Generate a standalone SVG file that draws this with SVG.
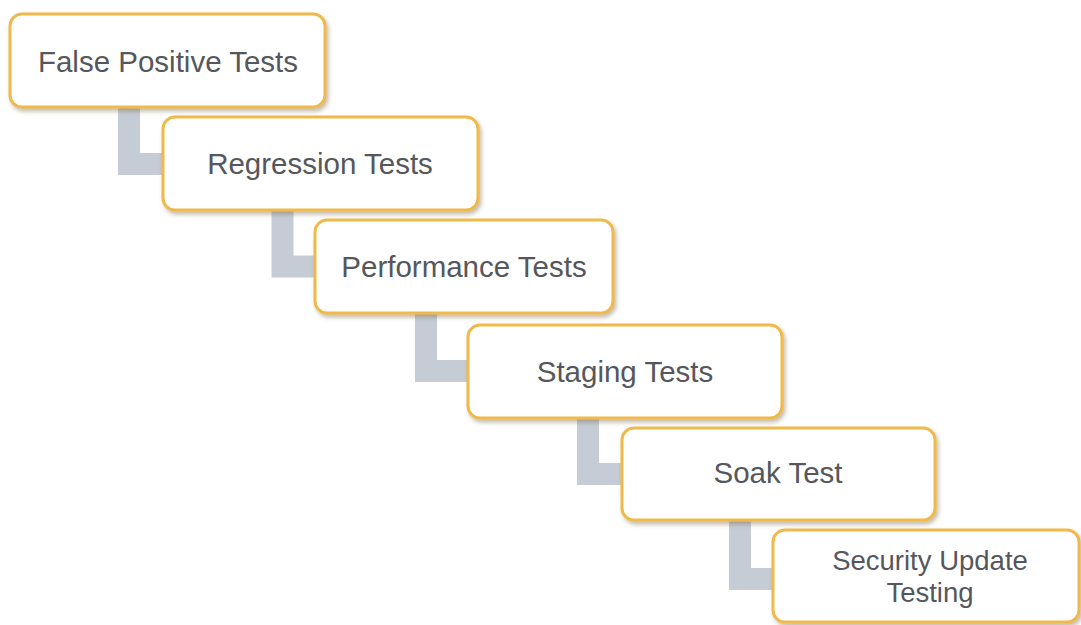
<svg xmlns="http://www.w3.org/2000/svg" width="1081" height="625" viewBox="0 0 1081 625">
  <defs>
    <filter id="shadow" x="-10%" y="-20%" width="125%" height="150%">
      <feDropShadow dx="2" dy="3" stdDeviation="2" flood-color="#6b5a30" flood-opacity="0.4"/>
    </filter>
    <style>
      .box { fill: #ffffff; stroke: #f0b94a; stroke-width: 3; filter: url(#shadow); }
      .label { font-family: "Liberation Sans", Arial, sans-serif; font-size: 29.5px; fill: #55575c; text-anchor: middle; }
      .label.two-line { font-size: 27.5px; }
      .link { fill: none; stroke: #c6ccd5; stroke-width: 22; stroke-linejoin: miter; stroke-linecap: butt; }
    </style>
  </defs>
  <rect width="1081" height="625" fill="#ffffff"/>

  <!-- elbow connectors from each step down to the next -->
  <g id="connectors">
    <path class="link" d="M129 100 V164 H170"/>
    <path class="link" d="M282.5 200 V266.5 H322"/>
    <path class="link" d="M426 305 V371 H475"/>
    <path class="link" d="M588 410 V474 H630"/>
    <path class="link" d="M740 512 V579 H780"/>
  </g>

  <g id="node-false-positive">
    <rect class="box" x="10" y="14" width="315" height="93" rx="12"/>
    <text class="label" x="168" y="72">False Positive Tests</text>
  </g>
  <g id="node-regression">
    <rect class="box" x="163" y="117" width="315" height="93" rx="12"/>
    <text class="label" x="320" y="174">Regression Tests</text>
  </g>
  <g id="node-performance">
    <rect class="box" x="315" y="220" width="298" height="93" rx="12"/>
    <text class="label" x="464" y="277">Performance Tests</text>
  </g>
  <g id="node-staging">
    <rect class="box" x="468" y="325" width="314" height="93" rx="12"/>
    <text class="label" x="625" y="382">Staging Tests</text>
  </g>
  <g id="node-soak">
    <rect class="box" x="622" y="428" width="313" height="92" rx="12"/>
    <text class="label" x="778" y="483">Soak Test</text>
  </g>
  <g id="node-security-update">
    <rect class="box" x="773" y="530" width="306" height="92" rx="12"/>
    <text class="label two-line" x="930" y="570">Security Update</text>
    <text class="label two-line" x="930" y="602">Testing</text>
  </g>
</svg>
